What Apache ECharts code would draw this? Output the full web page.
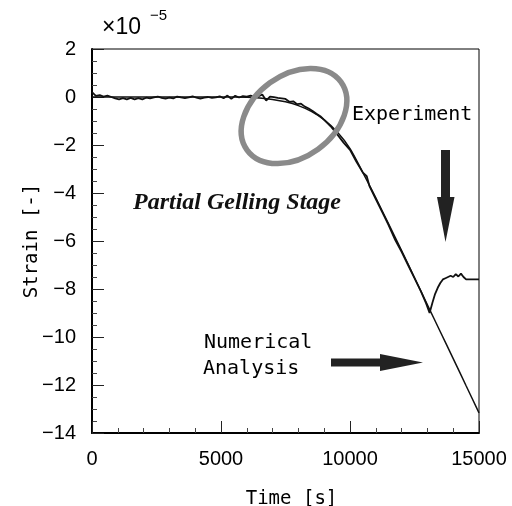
<!DOCTYPE html>
<html>
<head>
<meta charset="utf-8">
<script src="https://cdn.jsdelivr.net/npm/echarts@6/dist/echarts.min.js"></script>
<style>html,body{margin:0;padding:0;background:#fff;}#c{width:512px;height:506px;}</style>
</head>
<body>
<div id="c"></div>
<script>
// Experiment (time [s], strain x1e-5)
var expTime = [0,150,300,450,600,750,900,1050,1200,1350,1500,1650,1800,1950,2100,2250,2400,2550,2700,2850,3000,3150,3300,3450,3600,3750,3900,4050,4200,4350,4500,4650,4800,4950,5100,5250,5400,5550,5700,5850,6000,6150,6300,6450,6600,6750,6900,7050,7200,7350,7500,7650,7800,7950,8100,8250,8400,8550,8700,8850,9000,9250,9500,9750,10000,10250,10500,10650,10750,11000,11250,11500,11750,12000,12250,12500,12750,12950,13085,13200,13300,13400,13500,13600,13700,13800,13900,14000,14100,14200,14300,14400,14500,15000];
var expStrain = [0.2,0.05,0.08,0.02,0.06,0.0,-0.06,-0.1,-0.05,-0.1,-0.04,-0.1,-0.05,-0.1,-0.03,-0.06,-0.02,0.02,-0.04,-0.07,-0.03,-0.06,0.02,-0.02,-0.05,-0.02,0.03,-0.03,-0.07,-0.03,0.0,-0.04,-0.02,0.03,-0.05,0.06,-0.08,0.05,-0.02,0.04,0.02,0.06,0.0,0.03,0.1,-0.15,0.02,-0.01,-0.04,-0.06,-0.08,-0.2,-0.18,-0.3,-0.28,-0.4,-0.48,-0.58,-0.7,-0.8,-0.95,-1.22,-1.55,-1.9,-2.2,-2.7,-3.15,-3.3,-3.7,-4.25,-4.8,-5.35,-5.95,-6.45,-7.0,-7.55,-8.1,-8.6,-9.0,-8.55,-8.2,-7.95,-7.75,-7.6,-7.55,-7.5,-7.45,-7.5,-7.38,-7.48,-7.36,-7.5,-7.6,-7.6];
// Numerical analysis
var numTime = [0,1000,2000,3000,4000,5000,5500,6000,6500,7000,7500,8000,8500,9000,9500,10000,10500,11000,11500,12000,12500,13000,13500,14000,14500,15000];
var numStrain = [0,0,0,0,0,0,0,-0.01,-0.04,-0.1,-0.2,-0.36,-0.6,-0.95,-1.45,-2.15,-3.15,-4.2,-5.3,-6.4,-7.53,-8.66,-9.78,-10.9,-12.03,-13.16];
var xTicks = [0,5000,10000,15000];
var yTicks = [-14,-12,-10,-8,-6,-4,-2,0,2];

function pairs(a,b){return a.map(function(v,i){return [v,b[i]];});}

var chart = echarts.init(document.getElementById('c'), null, {renderer:'canvas'});
var labelFont = 'Liberation Sans';
var monoFont = '"DejaVu Sans Mono"';
chart.setOption({
  animation:false,
  backgroundColor:'#fff',
  grid:{left:92,right:33,top:49,bottom:73,outerBoundsMode:'none',containLabel:false,show:true,borderColor:'#000',borderWidth:1,backgroundColor:'transparent'},
  xAxis:{type:'value',min:xTicks[0],max:xTicks[xTicks.length-1],interval:5000,
    name:'Time [s]',nameLocation:'middle',nameGap:57,nameMoveOverlap:false,
    nameTextStyle:{fontFamily:monoFont,fontSize:19,color:'#000',padding:[0,0,0,12]},
    axisLine:{show:true,onZero:false,lineStyle:{color:'#000',width:2}},
    axisTick:{show:true,inside:true,length:12,lineStyle:{color:'#222',width:1}},
    minorTick:{show:true,splitNumber:5,length:5,lineStyle:{color:'#444',width:1}},
    axisLabel:{fontFamily:labelFont,fontSize:20,color:'#000',margin:16,
      formatter:function(v){return String(v);}},
    splitLine:{show:false}},
  yAxis:{type:'value',min:yTicks[0],max:yTicks[yTicks.length-1],interval:2,
    name:'Strain [-]',nameLocation:'middle',nameGap:50,nameRotate:90,nameMoveOverlap:false,
    nameTextStyle:{fontFamily:monoFont,fontSize:19,color:'#000'},
    axisLine:{show:true,onZero:false,lineStyle:{color:'#000',width:2}},
    axisTick:{show:true,inside:true,length:12,lineStyle:{color:'#222',width:1}},
    minorTick:{show:true,splitNumber:4,length:5,lineStyle:{color:'#444',width:1}},
    axisLabel:{fontFamily:labelFont,fontSize:20,color:'#000',margin:16,
      formatter:function(v){return v<0?'\u2212'+(-v):String(v);}},
    splitLine:{show:false}},
  series:[
    {name:'Numerical',type:'line',data:pairs(numTime,numStrain),showSymbol:false,smooth:0.3,
      lineStyle:{color:'#111',width:1.5},z:3},
    {name:'Experiment',type:'line',data:pairs(expTime,expStrain),showSymbol:false,
      lineStyle:{color:'#111',width:1.8},z:4}
  ],
  graphic:[
    {type:'ellipse',x:294,y:116,rotation:36*Math.PI/180,shape:{cx:0,cy:0,rx:58,ry:41},
      style:{fill:'none',stroke:'#8a8a8a',lineWidth:5.5},z:10},
    {type:'text',x:102,y:28,style:{text:'\u00d710',font:'23px '+labelFont,fill:'#000',textVerticalAlign:'middle'}},
    {type:'text',x:150,y:16,style:{text:'\u22125',font:'15px '+labelFont,fill:'#000',textVerticalAlign:'middle'}},
    {type:'text',x:352,y:115,style:{text:'Experiment',font:'20px '+monoFont,fill:'#000',textVerticalAlign:'middle'}},
    {type:'text',x:133,y:203,style:{text:'Partial Gelling Stage',font:'italic bold 24px "Liberation Serif"',fill:'#111',textVerticalAlign:'middle'}},
    {type:'text',x:204,y:343,style:{text:'Numerical',font:'20px '+monoFont,fill:'#000',textVerticalAlign:'middle'}},
    {type:'text',x:203,y:369,style:{text:'Analysis',font:'20px '+monoFont,fill:'#000',textVerticalAlign:'middle'}},
    {type:'polygon',shape:{points:[[441,150],[450,150],[450,197],[454.5,197],[445.5,242],[437,197],[441,197]]},style:{fill:'#222'}},
    {type:'polygon',shape:{points:[[331,358.5],[380,358.5],[380,354],[423,362.5],[380,371],[380,366.5],[331,366.5]]},style:{fill:'#222'}}
  ]
});
</script>
</body>
</html>
